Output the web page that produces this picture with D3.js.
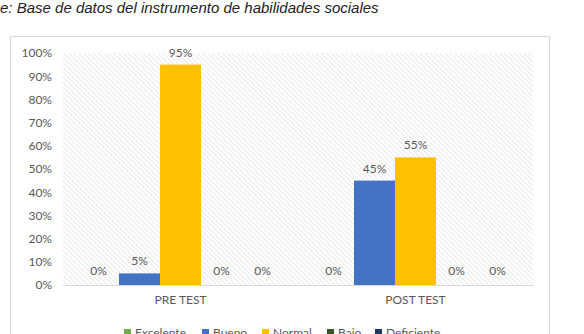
<!DOCTYPE html>
<html>
<head>
<meta charset="utf-8">
<script src="https://cdn.jsdelivr.net/npm/d3@7"></script>
<style>
  body { margin: 0; background: #fff; }
  svg { display: block; }
</style>
</head>
<body>
<svg id="chart" width="584" height="334"></svg>
<script>
// data
var categories = ["PRE TEST", "POST TEST"];
var seriesNames = ["Excelente", "Bueno", "Normal", "Bajo", "Deficiente"];
var seriesColors = ["#70AD47", "#4472C4", "#FFC000", "#375623", "#1F3864"];
var preTest = [0, 0.05, 0.95, 0, 0];
var postTest = [0, 0.45, 0.55, 0, 0];
var yTicks = [0, 0.1, 0.2, 0.3, 0.4, 0.5, 0.6, 0.7, 0.8, 0.9, 1];
var caption = "e: Base de datos del instrumento de habilidades sociales";

var values = [preTest, postTest];

var svg = d3.select("#chart");
var labelFont = "Lato, 'Open Sans', sans-serif";
var textColor = "#595959";

// caption above the chart box
svg.append("text")
    .attr("x", 0)
    .attr("y", 13)
    .attr("font-family", "'Liberation Sans', Arial, sans-serif")
    .attr("font-style", "italic")
    .attr("font-size", 15)
    .attr("fill", "#222")
    .text(caption);

// chart frame
svg.append("rect")
    .attr("x", 10.5)
    .attr("y", 36.5)
    .attr("width", 539)
    .attr("height", 310)
    .attr("fill", "#fff")
    .attr("stroke", "#d9d9d9");

var margin = { top: 53, left: 63, right: 51, bottom: 49 };
var width = 584 - margin.left - margin.right;
var height = 334 - margin.top - margin.bottom;

var defs = svg.append("defs");
var pat = defs.append("pattern")
    .attr("id", "hatch")
    .attr("patternUnits", "userSpaceOnUse")
    .attr("width", 3.5)
    .attr("height", 3.5)
    .attr("patternTransform", "rotate(-45)");
pat.append("rect").attr("width", 3.5).attr("height", 3.5).attr("fill", "#fff");
pat.append("line")
    .attr("x1", 0).attr("y1", 0).attr("x2", 0).attr("y2", 3.5)
    .attr("stroke", "#dcdcdc")
    .attr("stroke-width", 1.2);

var g = svg.append("g")
    .attr("transform", "translate(" + margin.left + "," + margin.top + ")");

var y = d3.scaleLinear().domain([0, 1]).range([height, 0]);
var x0 = d3.scaleBand()
    .domain(categories)
    .range([0, width])
    .paddingInner(30 / 235)
    .paddingOuter(15 / 235);
var x1 = d3.scaleBand()
    .domain(seriesNames)
    .range([0, x0.bandwidth()]);
var color = d3.scaleOrdinal().domain(seriesNames).range(seriesColors);

// hatched plot area
g.append("rect")
    .attr("width", width)
    .attr("height", height)
    .attr("fill", "url(#hatch)");

// y axis labels
var yAxis = g.append("g")
    .call(d3.axisLeft(y).tickValues(yTicks).tickFormat(d3.format(".0%")).tickSize(0).tickPadding(11));
yAxis.select(".domain").remove();
yAxis.selectAll("text")
    .attr("font-family", labelFont)
    .attr("font-size", 12)
    .attr("fill", textColor);

// bars
var groups = g.selectAll(".grp")
    .data(categories)
    .enter()
    .append("g")
    .attr("class", "grp")
    .attr("transform", function (d) {
    return "translate(" + x0(d) + ",0)";
});

groups.selectAll("rect")
    .data(function (d, i) {
    return seriesNames.map(function (s, j) {
        return { name: s, value: values[i][j] };
    });
})
    .enter()
    .append("rect")
    .attr("x", function (d) { return x1(d.name); })
    .attr("y", function (d) { return y(d.value); })
    .attr("width", x1.bandwidth())
    .attr("height", function (d) { return height - y(d.value); })
    .attr("fill", function (d) { return color(d.name); });

groups.selectAll("text")
    .data(function (d, i) {
    return seriesNames.map(function (s, j) {
        return { name: s, value: values[i][j] };
    });
})
    .enter()
    .append("text")
    .attr("x", function (d) { return x1(d.name) + x1.bandwidth() / 2; })
    .attr("y", function (d) { return y(d.value) - (d.value > 0 ? 8 : 10); })
    .attr("text-anchor", "middle")
    .attr("font-family", labelFont)
    .attr("font-size", 12)
    .attr("fill", textColor)
    .text(function (d) { return d3.format(".0%")(d.value); });

// x axis
var xAxis = g.append("g")
    .attr("transform", "translate(0," + height + ")")
    .call(d3.axisBottom(x0).tickSize(0).tickPadding(10));
xAxis.select(".domain").attr("stroke", "#d9d9d9");
xAxis.selectAll("text")
    .attr("font-family", labelFont)
    .attr("font-size", 12)
    .attr("fill", textColor);

// legend (bottom is cut by the picture edge, as in the original)
var legendX = [124, 202, 262, 327, 375];
var legend = svg.append("g").attr("transform", "translate(0,329)");
var items = legend.selectAll("g")
    .data(seriesNames)
    .enter()
    .append("g")
    .attr("transform", function (d, i) {
    return "translate(" + legendX[i] + ",0)";
});
items.append("rect")
    .attr("width", 7)
    .attr("height", 7)
    .attr("fill", function (d) { return color(d); });
items.append("text")
    .attr("x", 11)
    .attr("y", 8)
    .attr("font-family", labelFont)
    .attr("font-size", 12)
    .attr("fill", textColor)
    .text(function (d) { return d; });
</script>
</body>
</html>
